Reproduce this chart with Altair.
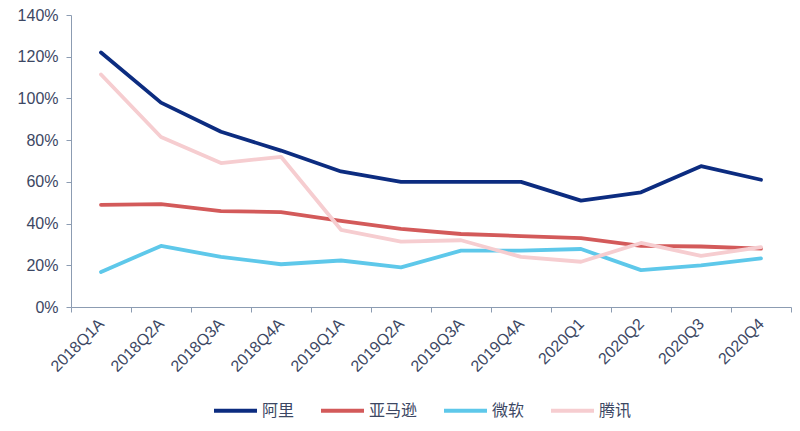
import altair as alt
import pandas as pd

quarters = ["2018Q1A", "2018Q2A", "2018Q3A", "2018Q4A", "2019Q1A", "2019Q2A",
            "2019Q3A", "2019Q4A", "2020Q1", "2020Q2", "2020Q3", "2020Q4"]
alibaba = [122, 98, 84, 75, 65, 60, 60, 60, 51, 55, 67.5, 61]
amazon = [49, 49.3, 46, 45.5, 41.3, 37.5, 35, 34, 33, 29.3, 29, 28]
microsoft = [16.8, 29.3, 24, 20.5, 22.3, 19, 27, 27, 27.8, 17.7, 20, 23.3]
tencent = [111.5, 81.5, 69, 72, 37, 31.3, 32, 24, 21.7, 30.7, 24.5, 28.7]

series_names = ["阿里", "亚马逊", "微软", "腾讯"]
series_colors = ["#0c2c80", "#d35a5a", "#5ec8ea", "#f6cdd0"]
series_values = [alibaba, amazon, microsoft, tencent]

rows = []
for name, vals in zip(series_names, series_values):
    for q, v in zip(quarters, vals):
        rows.append({"quarter": q, "series": name, "value": v / 100})
df = pd.DataFrame(rows)

axis_color = "#8c9cb2"
label_color = "#3c4763"
font = "Liberation Sans"

chart = alt.Chart(df).mark_line(strokeWidth=3.8, strokeCap="round", strokeJoin="round").encode(
    x=alt.X("quarter:N", sort=quarters, bandPosition=0.5,
            scale=alt.Scale(type="band", paddingInner=0, paddingOuter=0),
            axis=alt.Axis(title=None, labelAngle=-45, labelAlign="right", labelBaseline="middle",
                          tickBand="extent", domainColor=axis_color, tickColor=axis_color,
                          tickSize=5, labelPadding=9, labelFontSize=16, labelColor=label_color,
                          labelFont=font, grid=False)),
    y=alt.Y("value:Q",
            scale=alt.Scale(domain=[0, 1.4], nice=False),
            axis=alt.Axis(title=None, format=".0%", values=[0, 0.2, 0.4, 0.6, 0.8, 1.0, 1.2, 1.4],
                          domainColor=axis_color, tickColor=axis_color, tickSize=5,
                          labelPadding=8, labelFontSize=16, labelColor=label_color,
                          labelFont=font, grid=False)),
    color=alt.Color("series:N", sort=series_names,
                    scale=alt.Scale(domain=series_names, range=series_colors),
                    legend=alt.Legend(title=None, orient="none", legendX=141, legendY=372,
                                      direction="horizontal", columns=4, symbolType="stroke",
                                      symbolSize=1849, symbolStrokeWidth=4, labelFontSize=16,
                                      labelColor=label_color, labelFont="Noto Sans CJK SC",
                                      columnPadding=18, labelOffset=3)),
    order=alt.Order("series:N"),
).properties(
    width=720, height=292,
    padding={"left": 63, "top": 7, "right": 1, "bottom": 124},
    autosize=alt.AutoSizeParams(type="none"),
).configure(background="white").configure_view(stroke=None)

chart.save("out.html", embed_options={"renderer": "svg", "actions": False})
